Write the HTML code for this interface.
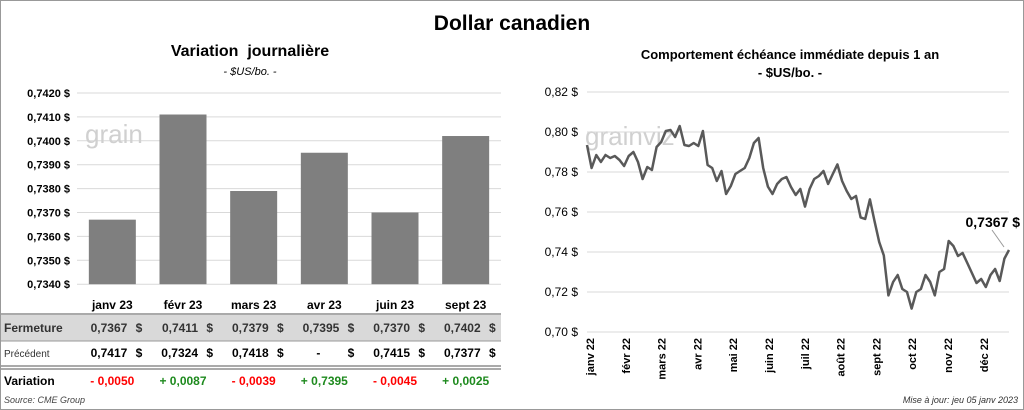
<!DOCTYPE html>
<html><head><meta charset="utf-8">
<style>
body{margin:0;width:1024px;height:410px;background:#fff;font-family:"Liberation Sans",sans-serif;overflow:hidden;position:relative}
.frame{position:absolute;left:0;top:0;width:1022px;height:408px;border:1px solid #999}
.t{position:absolute;white-space:nowrap}
</style></head><body>
<div class="frame"></div>
<div class="t" style="left:0;width:1024px;text-align:center;top:12px;font-size:21px;font-weight:bold">Dollar canadien</div>
<div class="t" style="left:0;width:500px;text-align:center;top:43px;font-size:16px;font-weight:bold">Variation&nbsp; journalière</div>
<div class="t" style="left:0;width:500px;text-align:center;top:66px;font-size:11px;font-style:italic">- $US/bo. -</div>
<div class="t" style="left:560px;width:460px;text-align:center;top:47px;font-size:13px;font-weight:bold">Comportement échéance immédiate depuis 1 an</div>
<div class="t" style="left:560px;width:460px;text-align:center;top:65px;font-size:13px;font-weight:bold">- $US/bo. -</div>
<svg id="svg" width="1024" height="410" style="position:absolute;left:0;top:0"></svg>
<script>
const barCats=["janv 23","févr 23","mars 23","avr 23","juin 23","sept 23"];
const barVals=[0.7367,0.7411,0.7379,0.7395,0.7370,0.7402];
const prevVals=["0,7417","0,7324","0,7418","-","0,7415","0,7377"];
const varVals=["- 0,0050","+ 0,0087","- 0,0039","+ 0,7395","- 0,0045","+ 0,0025"];
const barTicks=[0.7340,0.7350,0.7360,0.7370,0.7380,0.7390,0.7400,0.7410,0.7420];
const lineVals=[0.7935,0.782,0.7885,0.785,0.7885,0.787,0.788,0.786,0.783,0.788,0.790,0.785,0.7765,0.7825,0.781,0.7925,0.795,0.8005,0.801,0.7975,0.803,0.7935,0.793,0.7945,0.793,0.8005,0.7835,0.782,0.7755,0.7805,0.769,0.773,0.779,0.7805,0.782,0.787,0.7945,0.797,0.782,0.7727,0.769,0.774,0.7765,0.7775,0.7725,0.7685,0.7715,0.7627,0.7715,0.7765,0.778,0.7805,0.774,0.779,0.7838,0.7755,0.7705,0.7665,0.768,0.7573,0.7565,0.7663,0.7555,0.745,0.7383,0.7183,0.725,0.7285,0.7215,0.72,0.7117,0.72,0.7215,0.7285,0.725,0.7183,0.73,0.7315,0.7455,0.743,0.738,0.7395,0.7345,0.7295,0.7245,0.7265,0.7225,0.7285,0.7315,0.7255,0.7367,0.741];
const lineTicks=[0.70,0.72,0.74,0.76,0.78,0.80,0.82];
const months=["janv 22","févr 22","mars 22","avr 22","mai 22","juin 22","juil 22","août 22","sept 22","oct 22","nov 22","déc 22"];
const NS="http://www.w3.org/2000/svg";const svg=document.getElementById('svg');
function mk(t,a,txt){const e=document.createElementNS(NS,t);for(const k in a)e.setAttribute(k,a[k]);if(txt!=null)e.textContent=txt;svg.appendChild(e);return e;}
// left chart
const bx0=77,bx1=501,by=v=>93+(0.7420-v)/0.0001*2.39;const cw=(bx1-bx0)/barCats.length;
barTicks.forEach(v=>{const g=mk('line',{x1:bx0,x2:bx1,y1:by(v),y2:by(v),stroke:'#d9d9d9'});
const t=mk('text',{x:70,y:by(v)+4,'text-anchor':'end','font-size':11,'font-weight':'bold'},v.toFixed(4).replace('.',',')+' $');});
const w1=mk('text',{x:85,y:143,'font-size':26,fill:'#d0d0d0'},'grain');
const w2=mk('text',{x:585,y:145,'font-size':26,fill:'#d0d0d0'},'grainviz');
barCats.forEach((c,i)=>{const cx=bx0+cw*(i+0.5);const b=mk('rect',{x:cx-23.5,y:by(barVals[i]),width:47,height:by(0.7340)-by(barVals[i]),fill:'#7f7f7f'});
const h=mk('text',{x:cx,y:309,'text-anchor':'middle','font-size':12,'font-weight':'bold'},c);});
// table
const r=mk('rect',{x:1,y:315,width:500,height:26,fill:'#d9d9d9'});
[[314,'#555',1],[341,'#999',1],[366,'#555',1],[369,'#555',1]].forEach(l=>{const e=mk('line',{x1:1,x2:501,y1:l[0],y2:l[0],stroke:l[1],'stroke-width':l[2]});});
const lbl=[['Fermeture',332,12,'bold','#333'],['Précédent',357,10,'normal','#333'],['Variation',385,12,'bold','#000']];
lbl.forEach(l=>{const e=mk('text',{x:4,y:l[1],'font-size':l[2],'font-weight':l[3],fill:l[4]},l[0]);});
barCats.forEach((c,i)=>{const cx=bx0+cw*(i+0.5);
const f=mk('text',{x:cx+15,y:332,'text-anchor':'end','font-size':12,'font-weight':'bold',fill:'#333'},barVals[i].toFixed(4).replace('.',','));
const d1=mk('text',{x:cx+30,y:332,'text-anchor':'end','font-size':12,'font-weight':'bold',fill:'#333'},'$');
const p=mk('text',{x:prevVals[i]=='-'?cx-4:cx+15,y:357,'text-anchor':'end','font-size':12,'font-weight':'bold'},prevVals[i]);
const d2=mk('text',{x:cx+30,y:357,'text-anchor':'end','font-size':12,'font-weight':'bold'},'$');
const v=mk('text',{x:cx,y:385,'text-anchor':'middle','font-size':12,'font-weight':'bold',fill:varVals[i][0]=='-'?'#ff0000':'#1e8a1e'},varVals[i]);});
const s=mk('text',{x:4,y:403,'font-size':9,'font-style':'italic',fill:'#444'},'Source: CME Group');
// right chart
const lx0=587,lx1=1009,ly=v=>92+(0.82-v)/0.02*40;
lineTicks.forEach(v=>{const g=mk('line',{x1:lx0,x2:lx1,y1:ly(v),y2:ly(v),stroke:'#d9d9d9'});
const t=mk('text',{x:578,y:ly(v)+4,'text-anchor':'end','font-size':12},v.toFixed(2).replace('.',',')+' $');});
const lx=i=>lx0+(lx1-lx0)*i/(lineVals.length-1);
const pts=lineVals.map((v,i)=>lx(i).toFixed(1)+','+ly(v).toFixed(1)).join(' ');
const pl=mk('polyline',{points:pts,fill:'none',stroke:'#595959','stroke-width':2.5,'stroke-linejoin':'round'});
const mx=i=>590+i*35.8;
months.forEach((m,i)=>{const t=mk('text',{transform:`translate(${mx(i)+4},338) rotate(-90)`,'text-anchor':'end','font-size':11,'font-weight':'bold'},m);});
const ll=mk('line',{x1:992,y1:230,x2:1004,y2:247,stroke:'#999'});
const cl=mk('text',{x:1020,y:227,'text-anchor':'end','font-size':14,'font-weight':'bold'},'0,7367 $');
const u=mk('text',{x:1018,y:403,'text-anchor':'end','font-size':9,'font-style':'italic',fill:'#333'},'Mise à jour: jeu 05 janv 2023');
</script>
</body></html>
